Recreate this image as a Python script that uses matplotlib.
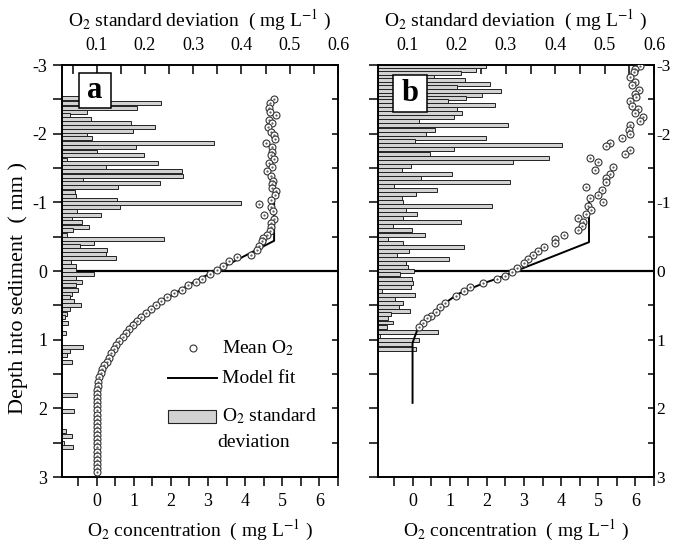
import numpy as np
import matplotlib.pyplot as plt
from matplotlib.patches import Rectangle
from matplotlib.ticker import MultipleLocator, FormatStrFormatter

plt.rcParams['font.family'] = ['Liberation Serif', 'DejaVu Serif']
plt.rcParams['mathtext.fontset'] = 'stix'
plt.rcParams['axes.unicode_minus'] = False

# ---- panel a data ----
a_std_depth = [-2.52, -2.45, -2.38, -2.32, -2.27, -2.22, -2.16, -2.10, -2.04, -1.98,
               -1.93, -1.86, -1.80, -1.74, -1.69, -1.62, -1.57, -1.51, -1.45, -1.39,
               -1.33, -1.28, -1.22, -1.15, -1.09, -1.04, -0.99, -0.93, -0.88, -0.82,
               -0.76, -0.71, -0.64, -0.59, -0.53, -0.46, -0.41, -0.36, -0.31, -0.25,
               -0.19, -0.13, -0.07, -0.01, 0.04,
               0.10, 0.16, 0.21, 0.27, 0.33, 0.38, 0.44, 0.50, 0.56, 0.62,
               0.67, 0.76, 0.91, 1.11, 1.16, 1.22, 1.33, 1.81, 2.04, 2.33,
               2.40, 2.50, 2.57]
a_std = [0.065, 0.234, 0.184, 0.079, 0.044, 0.088, 0.172, 0.221, 0.176, 0.079,
         0.090, 0.343, 0.182, 0.100, 0.197, 0.038, 0.226, 0.119, 0.277, 0.279,
         0.071, 0.232, 0.145, 0.055, 0.057, 0.141, 0.398, 0.149, 0.059, 0.108,
         0.049, 0.069, 0.084, 0.051, 0.038, 0.240, 0.094, 0.065, 0.121, 0.120,
         0.139, 0.047, 0.057, 0.057, 0.094,
         0.057, 0.069, 0.057, 0.061, 0.049, 0.044, 0.053, 0.067, 0.044, 0.038,
         0.034, 0.040, 0.036, 0.071, 0.044, 0.038, 0.049, 0.059, 0.053, 0.036,
         0.049, 0.032, 0.050]

a_o2_depth = [-2.51, -2.44, -2.38, -2.32, -2.27, -2.20, -2.15, -2.09, -2.03, -1.98,
              -1.92, -1.86, -1.80, -1.74, -1.69, -1.63, -1.57, -1.51, -1.45, -1.39,
              -1.31, -1.27, -1.21, -1.16, -1.10, -1.04, -0.98, -0.93, -0.87, -0.82,
              -0.76, -0.70, -0.64, -0.58, -0.53, -0.48, -0.43, -0.37, -0.31, -0.24,
              -0.20, -0.14, -0.07, -0.02, 0.05, 0.11, 0.16, 0.21, 0.27, 0.32,
              0.38, 0.44, 0.50, 0.55, 0.61, 0.67, 0.73, 0.79, 0.85, 0.90,
              0.96, 1.02, 1.08, 1.14, 1.20, 1.26, 1.32, 1.37, 1.43, 1.49,
              1.55, 1.61, 1.67, 1.73, 1.79, 1.85, 1.91, 1.97, 2.03, 2.09,
              2.15, 2.21, 2.27, 2.33, 2.39, 2.45, 2.51, 2.57, 2.63, 2.69,
              2.75, 2.81, 2.87, 2.93]
a_o2 = [4.79, 4.67, 4.65, 4.68, 4.83, 4.65, 4.73, 4.62, 4.69, 4.79,
        4.80, 4.56, 4.73, 4.71, 4.69, 4.79, 4.65, 4.73, 4.60, 4.69,
        4.75, 4.73, 4.71, 4.83, 4.81, 4.69, 4.38, 4.69, 4.76, 4.51,
        4.79, 4.69, 4.69, 4.67, 4.60, 4.49, 4.46, 4.38, 4.31, 4.16,
        3.78, 3.57, 3.41, 3.23, 3.05, 2.85, 2.67, 2.47, 2.30, 2.08,
        1.89, 1.74, 1.59, 1.46, 1.34, 1.21, 1.09, 0.98, 0.88, 0.79,
        0.70, 0.61, 0.53, 0.46, 0.40, 0.34, 0.27, 0.20, 0.15, 0.11,
        0.07, 0.04, 0.03, 0.02, 0.01, 0.01, 0.00, 0.01, 0.00, 0.02,
        0.01, 0.00, 0.01, 0.00, 0.01, 0.02, 0.00, 0.01, 0.00, 0.01,
        0.00, 0.01, 0.02, 0.01]

a_fit_depth = [-1.18, -0.44, 0.00, 0.08, 0.195, 0.33, 0.46, 0.60, 0.73, 0.88,
               1.05, 1.18, 1.31, 1.45, 1.61, 1.72, 1.85, 3.00]
a_fit = [4.78, 4.78, 3.20, 2.90, 2.50, 2.10, 1.69, 1.34, 1.02, 0.78,
         0.57, 0.40, 0.26, 0.15, 0.06, 0.02, 0.00, 0.00]

# ---- panel b data ----
b_std_depth = [-2.98, -2.93, -2.88, -2.83, -2.78, -2.73, -2.68, -2.62, -2.57, -2.52,
               -2.47, -2.42, -2.36, -2.30, -2.24, -2.18, -2.12, -2.06, -2.00, -1.94,
               -1.89, -1.83, -1.77, -1.71, -1.65, -1.59, -1.53, -1.47, -1.41, -1.35,
               -1.29, -1.24, -1.18, -1.12, -1.06, -1.01, -0.95, -0.89, -0.83, -0.77,
               -0.71, -0.65, -0.59, -0.53, -0.47, -0.41, -0.35, -0.29, -0.23, -0.18,
               -0.11, -0.06, 0.00, 0.05, 0.11, 0.17, 0.23, 0.29, 0.35, 0.41,
               0.46, 0.52, 0.58, 0.63, 0.69, 0.75, 0.82, 0.89, 0.95, 1.01,
               1.07, 1.13]
b_std = [0.259, 0.240, 0.210, 0.155, 0.218, 0.267, 0.200, 0.291, 0.252, 0.220,
         0.183, 0.277, 0.200, 0.212, 0.194, 0.124, 0.305, 0.157, 0.139, 0.259,
         0.116, 0.413, 0.194, 0.147, 0.387, 0.315, 0.108, 0.090, 0.191, 0.128,
         0.309, 0.074, 0.161, 0.118, 0.090, 0.092, 0.271, 0.098, 0.120, 0.092,
         0.210, 0.072, 0.110, 0.137, 0.061, 0.092, 0.216, 0.104, 0.080, 0.185,
         0.098, 0.102, 0.114, 0.086, 0.110, 0.112, 0.108, 0.049, 0.116, 0.076,
         0.092, 0.084, 0.106, 0.067, 0.061, 0.072, 0.059, 0.163, 0.045, 0.124,
         0.110, 0.118]

b_o2_depth = [-2.99, -2.94, -2.90, -2.82, -2.75, -2.71, -2.64, -2.58, -2.53, -2.47,
              -2.41, -2.36, -2.30, -2.24, -2.18, -2.12, -2.05, -2.00, -1.94, -1.87,
              -1.82, -1.76, -1.70, -1.64, -1.59, -1.52, -1.47, -1.41, -1.35, -1.29,
              -1.23, -1.18, -1.11, -1.06, -1.00, -0.95, -0.89, -0.83, -0.77, -0.71,
              -0.65, -0.59, -0.53, -0.46, -0.41, -0.35, -0.29, -0.23, -0.17, -0.11,
              -0.04, 0.01, 0.07, 0.12, 0.18, 0.24, 0.29, 0.36, 0.47, 0.53,
              0.59, 0.65, 0.69, 0.75, 0.82]
b_o2 = [6.11, 6.00, 5.97, 5.86, 5.98, 5.90, 6.09, 5.99, 6.02, 5.86,
        5.92, 6.07, 5.98, 6.20, 6.11, 5.86, 5.84, 5.86, 5.65, 5.31,
        5.22, 5.86, 5.71, 4.77, 4.98, 5.40, 4.91, 5.31, 5.22, 5.20,
        4.68, 5.09, 5.00, 4.77, 5.13, 4.73, 4.80, 4.67, 4.46, 4.58,
        4.55, 4.46, 4.08, 3.84, 3.84, 3.55, 3.37, 3.24, 3.10, 2.99,
        2.81, 2.67, 2.48, 2.27, 1.90, 1.56, 1.38, 1.18, 0.87, 0.73,
        0.64, 0.51, 0.38, 0.27, 0.18]

b_fit_depth = [-1.03, -0.42, 0.00, 0.11, 0.18, 0.34, 0.48, 0.60, 0.75, 0.87,
               1.00, 1.05, 1.92]
b_fit = [4.75, 4.75, 2.78, 2.28, 1.90, 1.20, 0.85, 0.60, 0.30, 0.12,
         0.03, 0.00, 0.00]

fig = plt.figure(figsize=(6.75, 5.46), dpi=100)
W, H = 675, 546


def panel(x0, std_depth, std, o2_depth, o2, fit_depth, fit, letter, std_lo,
          left_labels, right_labels, box):
    ax = fig.add_axes([x0 / W, 1 - 477 / H, 276 / W, 412 / H])
    axt = ax.twiny()
    ax.set_zorder(axt.get_zorder() + 1)
    ax.patch.set_visible(False)

    # standard deviation bars on the top axis
    axt.axhline(0, color='k', lw=1.6, zorder=1)
    axt.barh(std_depth, std, height=0.058, color='#d2d2d2', edgecolor='#222222',
             linewidth=0.7, zorder=2)
    axt.set_xlim(std_lo, 0.6)
    axt.xaxis.set_major_locator(MultipleLocator(0.1))
    axt.xaxis.set_minor_locator(MultipleLocator(0.05))
    axt.xaxis.set_major_formatter(FormatStrFormatter('%.1f'))
    axt.tick_params(axis='x', which='both', direction='in', length=6.5, width=1.1,
                    labelsize=13, pad=8)

    # O2 profile and model fit on the bottom axis
    ax.plot(o2, o2_depth, 'o', ms=5, mfc='white', mec='#333333', mew=0.8, zorder=4)
    ax.plot(o2, o2_depth, '.', ms=1.2, color='#555555', zorder=5)
    ax.plot(fit, fit_depth, color='k', lw=1.4, zorder=3)
    ax.set_xlim(-0.93, 6.5)
    ax.set_ylim(3, -3)
    ax.xaxis.set_major_locator(MultipleLocator(1))
    ax.xaxis.set_minor_locator(MultipleLocator(0.5))
    ax.yaxis.set_major_locator(MultipleLocator(1))
    ax.yaxis.set_minor_locator(MultipleLocator(0.5))
    ax.set_xticks([0, 1, 2, 3, 4, 5, 6])
    ax.tick_params(axis='x', which='both', direction='out', length=6.5, width=1.1,
                   labelsize=13, pad=5)
    ax.tick_params(axis='y', which='both', direction='out', length=6.5, width=1.1,
                   labelsize=13, pad=4, left=True, right=False, labelleft=left_labels)

    axt.yaxis.set_visible(True)
    axt.yaxis.set_ticks_position('right')
    axt.tick_params(axis='y', which='both', direction='in', length=4, width=1.1,
                    labelsize=12.5, pad=1.5, left=False, right=True,
                    labelleft=False, labelright=right_labels)

    for a in (ax, axt):
        for s in a.spines.values():
            s.set_linewidth(1.2)

    bx, by, bw, bh = box
    ax.add_patch(Rectangle((bx, by), bw, bh, transform=ax.transAxes,
                           facecolor='white', edgecolor='k', lw=1.1, zorder=6))
    ax.text(bx + bw / 2, by + bh / 2, letter, transform=ax.transAxes, ha='center',
            va='center', fontsize=22, fontweight='bold', zorder=7)

    cx = (x0 + 138) / W
    fig.text(cx, 1 - 20 / H, r'O$_2$ standard deviation  ( mg L$^{-1}$ )',
             ha='center', va='center', fontsize=14)
    fig.text(cx, 1 - 530 / H, r'O$_2$ concentration  ( mg L$^{-1}$ )',
             ha='center', va='center', fontsize=14)
    return ax


ax_a = panel(62, a_std_depth, a_std, a_o2_depth, a_o2, a_fit_depth, a_fit, 'a',
             0.028, True, False, (0.062, 0.895, 0.116, 0.085))
ax_b = panel(378, b_std_depth, b_std, b_o2_depth, b_o2, b_fit_depth, b_fit, 'b',
             0.041, False, True, (0.054, 0.886, 0.123, 0.090))

fig.text(18 / W, 1 - 288 / H, 'Depth into sediment  ( mm )', rotation=90,
         ha='center', va='center', fontsize=16)

# legend of panel a, drawn by hand
ax_a.plot([0.475], [0.313], 'o', ms=5, mfc='white', mec='#333333', mew=0.8,
          transform=ax_a.transAxes, zorder=6)
ax_a.plot([0.384, 0.562], [0.240, 0.240], color='k', lw=1.4,
          transform=ax_a.transAxes, zorder=6)
ax_a.add_patch(Rectangle((0.384, 0.131), 0.174, 0.032, transform=ax_a.transAxes,
                         facecolor='#d2d2d2', edgecolor='#222222', lw=0.8, zorder=6))
lkw = dict(transform=ax_a.transAxes, fontsize=14, va='center', ha='left', zorder=6)
ax_a.text(0.58, 0.313, r'Mean O$_2$', **lkw)
ax_a.text(0.58, 0.240, 'Model fit', **lkw)
ax_a.text(0.58, 0.148, r'O$_2$ standard', **lkw)
ax_a.text(0.562, 0.083, 'deviation', **lkw)

fig.savefig('out.png', dpi=100)
